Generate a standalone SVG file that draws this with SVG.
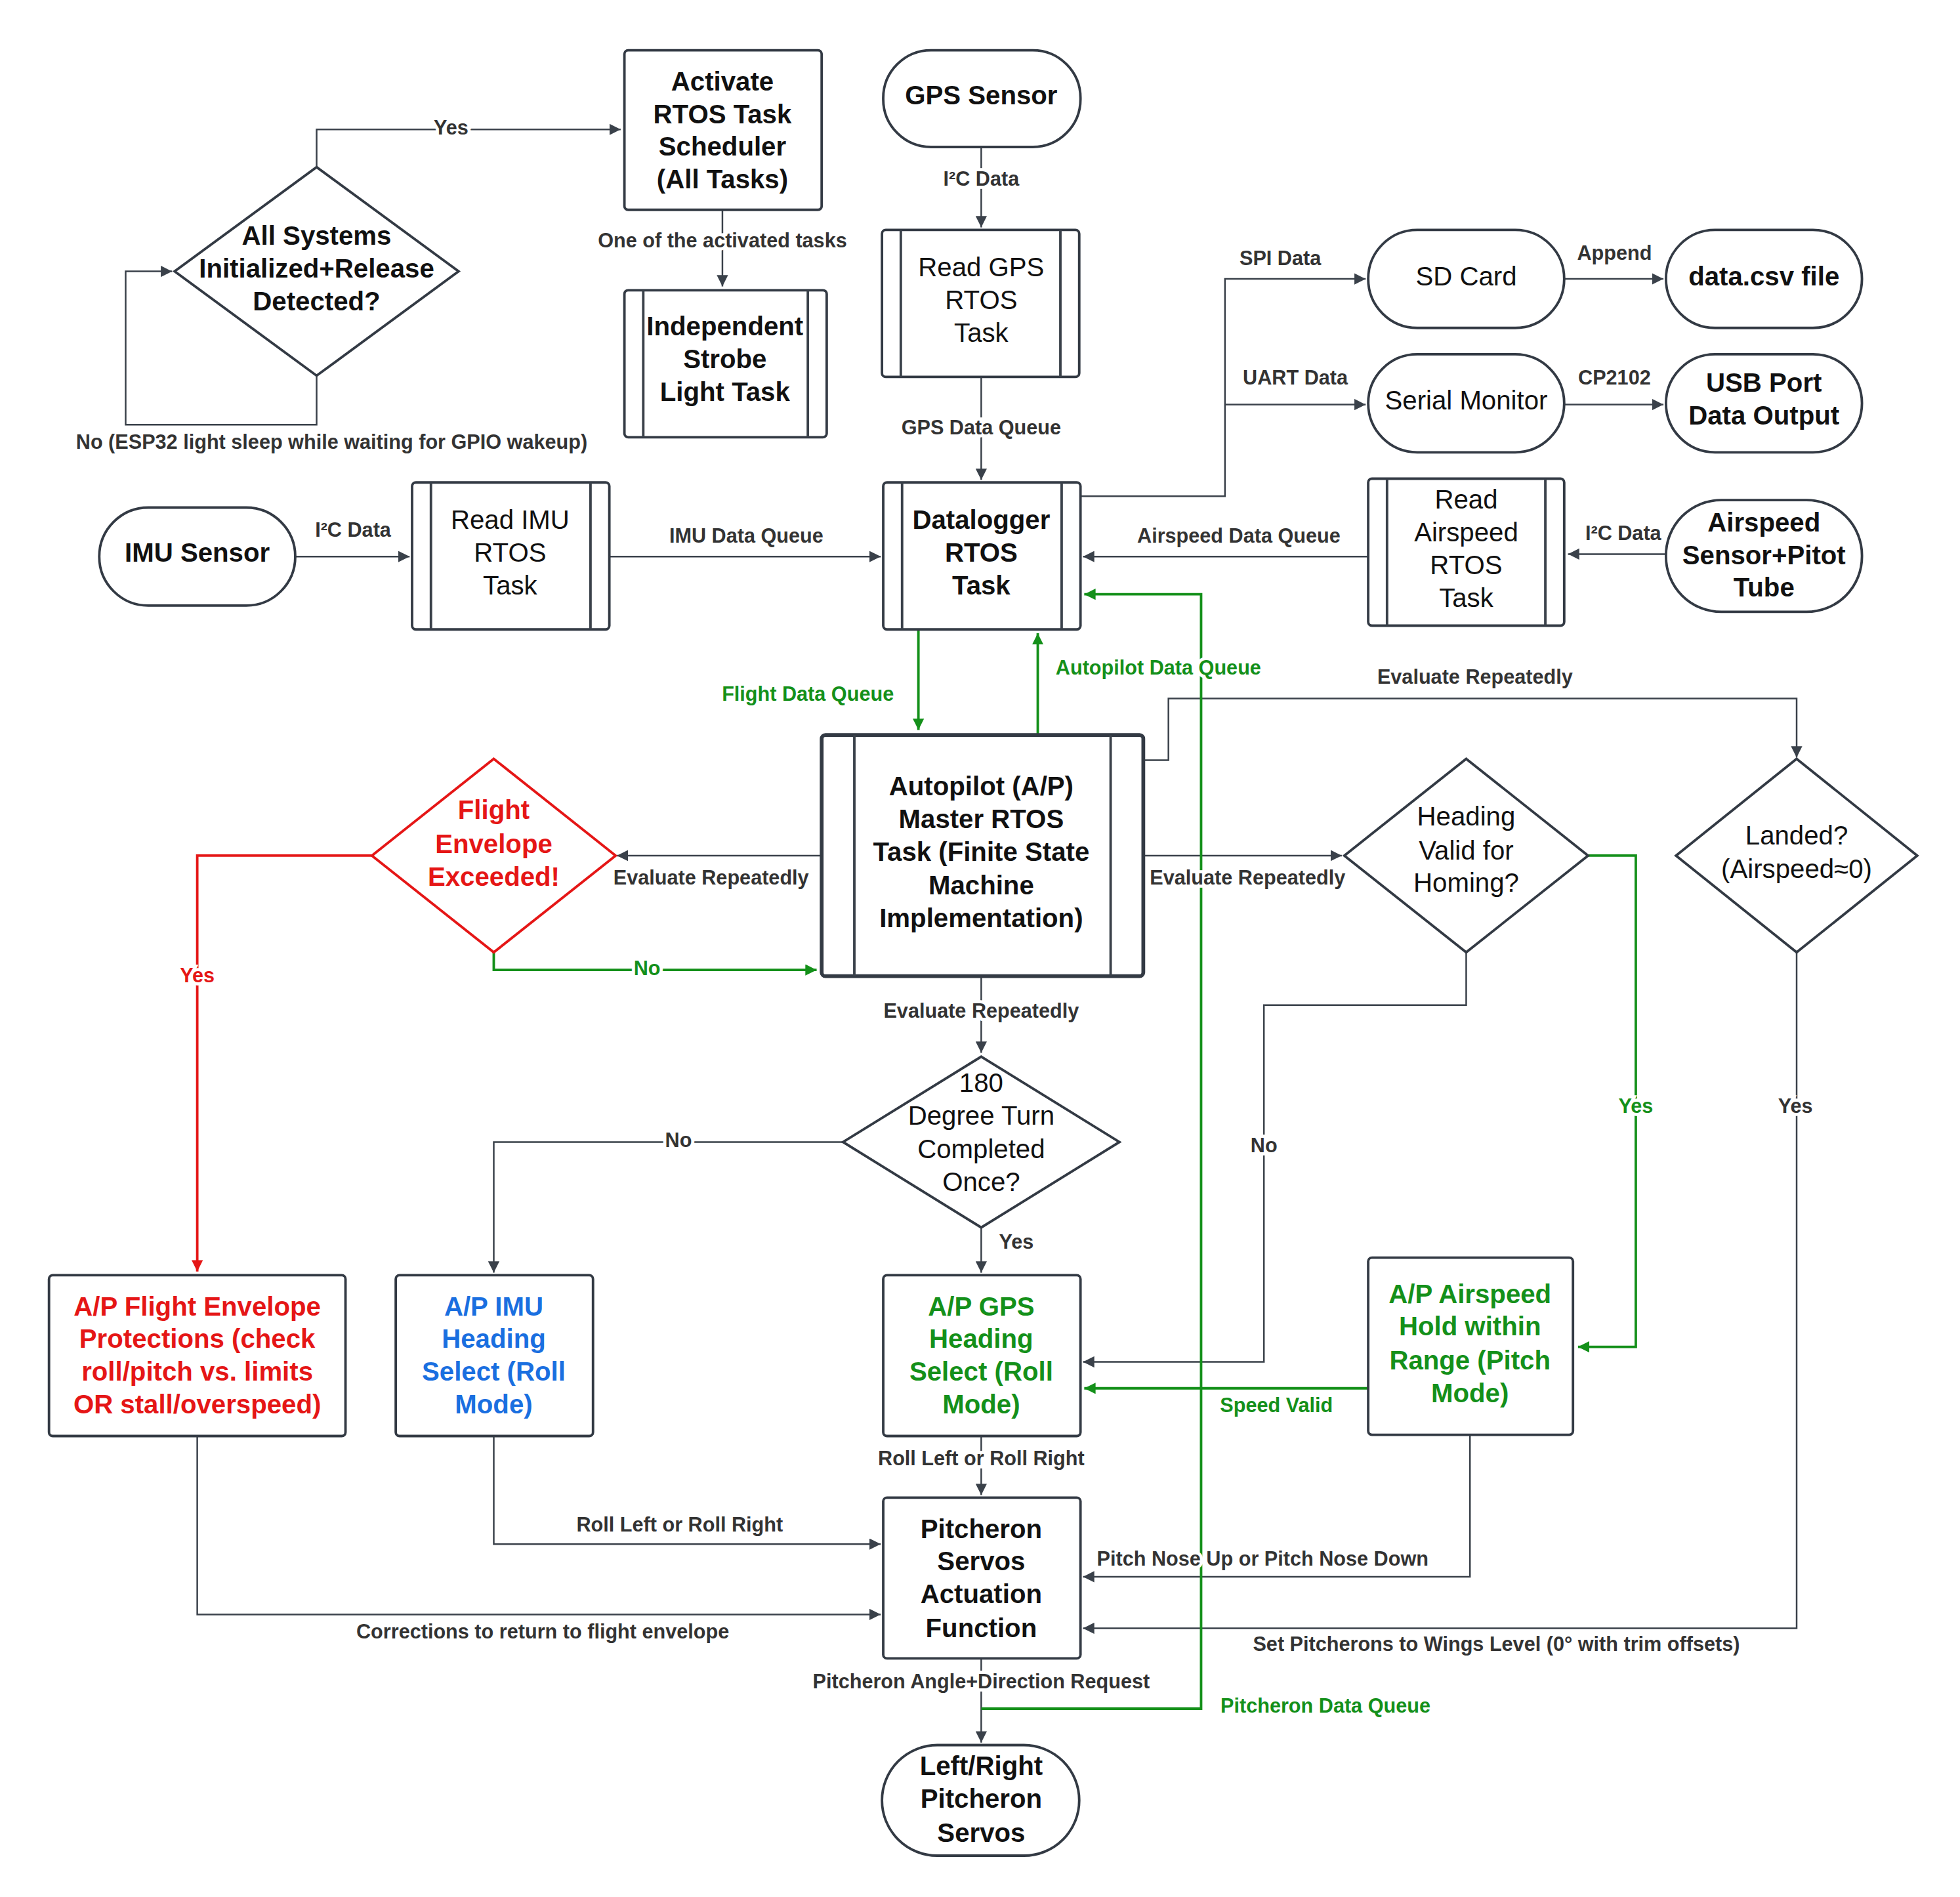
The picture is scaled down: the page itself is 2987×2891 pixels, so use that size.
<svg xmlns="http://www.w3.org/2000/svg" width="2987" height="2891" viewBox="0 0 2987 2891">
<style>
.n{fill:#fff;stroke:#333a44;stroke-width:2}
.t{font-family:"Liberation Sans",Arial,sans-serif;font-size:21px;text-anchor:middle;fill:#111}
.b{font-weight:bold}
.l{font-family:"Liberation Sans",Arial,sans-serif;font-size:16px;font-weight:bold;text-anchor:middle;fill:#333;stroke:#fff;stroke-width:5;paint-order:stroke}
.c{fill:none;stroke:#3a414a;stroke-width:1.3}
.g{fill:none;stroke:#14901a;stroke-width:2}
.r{fill:none;stroke:#e51616;stroke-width:2}
</style>
<defs>
<marker id="a" viewBox="0 0 10 10" refX="10" refY="5" markerWidth="9" markerHeight="9" markerUnits="userSpaceOnUse" orient="auto"><path d="M0,0L10,5L0,10z" fill="#3a414a"/></marker>
<marker id="ag" viewBox="0 0 10 10" refX="10" refY="5" markerWidth="9" markerHeight="9" markerUnits="userSpaceOnUse" orient="auto"><path d="M0,0L10,5L0,10z" fill="#14901a"/></marker>
<marker id="ar" viewBox="0 0 10 10" refX="10" refY="5" markerWidth="9" markerHeight="9" markerUnits="userSpaceOnUse" orient="auto"><path d="M0,0L10,5L0,10z" fill="#e51616"/></marker>
</defs>
<rect width="2987" height="2891" fill="#fff"/>
<g transform="scale(1.9147)">
<g id="connectors">
<path class="c" d="M252,133V103H494" marker-end="url(#a)"/>
<path class="c" d="M252,299V338H100V216H137" marker-end="url(#a)"/>
<path class="c" d="M575,167V228" marker-end="url(#a)"/>
<path class="c" d="M781,117V181" marker-end="url(#a)"/>
<path class="c" d="M781,300V382" marker-end="url(#a)"/>
<path class="c" d="M235,443H326" marker-end="url(#a)"/>
<path class="c" d="M485,443H701" marker-end="url(#a)"/>
<path class="c" d="M860,395H975V222H1087" marker-end="url(#a)"/>
<path class="c" d="M975,322H1087" marker-end="url(#a)"/>
<path class="c" d="M1245,222H1324" marker-end="url(#a)"/>
<path class="c" d="M1245,322H1324" marker-end="url(#a)"/>
<path class="c" d="M1326,441H1248" marker-end="url(#a)"/>
<path class="c" d="M1089,443H862" marker-end="url(#a)"/>
<path class="g" d="M731,501V581" marker-end="url(#ag)"/>
<path class="g" d="M826,585V504" marker-end="url(#ag)"/>
<path class="c" d="M910,605H930V556H1430V603" marker-end="url(#a)"/>
<path class="c" d="M654,681H491" marker-end="url(#a)"/>
<path class="c" d="M910,681H1068" marker-end="url(#a)"/>
<path class="g" d="M393,758V772H650" marker-end="url(#ag)"/>
<path class="r" d="M296,681H157V1012" marker-end="url(#ar)"/>
<path class="c" d="M781,777V838" marker-end="url(#a)"/>
<path class="c" d="M671,909H393V1013" marker-end="url(#a)"/>
<path class="c" d="M781,977V1013" marker-end="url(#a)"/>
<path class="c" d="M1167,758V800H1006V1084H862" marker-end="url(#a)"/>
<path class="g" d="M1264,681H1302V1072H1256" marker-end="url(#ag)"/>
<path class="g" d="M1089,1105H863" marker-end="url(#ag)"/>
<path class="c" d="M1430,758V1296H862" marker-end="url(#a)"/>
<path class="c" d="M1170,1142V1255H862" marker-end="url(#a)"/>
<path class="c" d="M781,1143V1190" marker-end="url(#a)"/>
<path class="c" d="M393,1143V1229H701" marker-end="url(#a)"/>
<path class="c" d="M157,1143V1285H701" marker-end="url(#a)"/>
<path class="c" d="M781,1320V1387" marker-end="url(#a)"/>
<path class="g" d="M781,1360H956V473H863" marker-end="url(#ag)"/>
<text class="l" x="359" y="107">Yes</text>
<text class="l" x="264" y="357">No (ESP32 light sleep while waiting for GPIO wakeup)</text>
<text class="l" x="575" y="197">One of the activated tasks</text>
<text class="l" x="781" y="148">I²C Data</text>
<text class="l" x="781" y="346">GPS Data Queue</text>
<text class="l" x="281" y="427">I²C Data</text>
<text class="l" x="594" y="432">IMU Data Queue</text>
<text class="l" x="1019" y="211">SPI Data</text>
<text class="l" x="1031" y="306">UART Data</text>
<text class="l" x="1285" y="207">Append</text>
<text class="l" x="1285" y="306">CP2102</text>
<text class="l" x="1292" y="430">I²C Data</text>
<text class="l" x="986" y="432">Airspeed Data Queue</text>
<text class="l" x="643" y="558" style="fill:#14901a">Flight Data Queue</text>
<text class="l" x="922" y="537" style="fill:#14901a">Autopilot Data Queue</text>
<text class="l" x="1174" y="544">Evaluate Repeatedly</text>
<text class="l" x="566" y="704">Evaluate Repeatedly</text>
<text class="l" x="993" y="704">Evaluate Repeatedly</text>
<text class="l" x="515" y="776" style="fill:#14901a">No</text>
<text class="l" x="157" y="782" style="fill:#e51616">Yes</text>
<text class="l" x="781" y="810">Evaluate Repeatedly</text>
<text class="l" x="540" y="913">No</text>
<text class="l" x="809" y="994">Yes</text>
<text class="l" x="1006" y="917">No</text>
<text class="l" x="1302" y="886" style="fill:#14901a">Yes</text>
<text class="l" x="1429" y="886">Yes</text>
<text class="l" x="1016" y="1124" style="fill:#14901a">Speed Valid</text>
<text class="l" x="1005" y="1246">Pitch Nose Up or Pitch Nose Down</text>
<text class="l" x="1191" y="1314">Set Pitcherons to Wings Level (0° with trim offsets)</text>
<text class="l" x="781" y="1166">Roll Left or Roll Right</text>
<text class="l" x="541" y="1219">Roll Left or Roll Right</text>
<text class="l" x="432" y="1304">Corrections to return to flight envelope</text>
<text class="l" x="781" y="1344">Pitcheron Angle+Direction Request</text>
<text class="l" x="1055" y="1363" style="fill:#14901a">Pitcheron Data Queue</text>
</g>
<g id="allsys"><path class="n" d="M252,133L365,216L252,299L139,216Z"/><text class="t b" x="252" y="195">All Systems</text><text class="t b" x="252" y="221">Initialized+Release</text><text class="t b" x="252" y="247">Detected?</text></g>
<g id="activate"><rect class="n" x="497" y="40" width="157" height="127" rx="3"/><text class="t b" x="575" y="72">Activate</text><text class="t b" x="575" y="98">RTOS Task</text><text class="t b" x="575" y="124">Scheduler</text><text class="t b" x="575" y="150">(All Tasks)</text></g>
<g id="strobe"><rect class="n" x="497" y="231" width="161" height="117" rx="3"/><path class="c" d="M512,231V348M643,231V348" style="stroke-width:2"/><text class="t b" x="577" y="267">Independent</text><text class="t b" x="577" y="293">Strobe</text><text class="t b" x="577" y="319">Light Task</text></g>
<g id="gps"><rect class="n" x="703" y="40" width="157" height="77" rx="38"/><text class="t b" x="781" y="83">GPS Sensor</text></g>
<g id="readgps"><rect class="n" x="702" y="183" width="157" height="117" rx="3"/><path class="c" d="M717,183V300M844,183V300" style="stroke-width:2"/><text class="t" x="781" y="220">Read GPS</text><text class="t" x="781" y="246">RTOS</text><text class="t" x="781" y="272">Task</text></g>
<g id="datalogger"><rect class="n" x="703" y="384" width="157" height="117" rx="3"/><path class="c" d="M718,384V501M845,384V501" style="stroke-width:2"/><text class="t b" x="781" y="421">Datalogger</text><text class="t b" x="781" y="447">RTOS</text><text class="t b" x="781" y="473">Task</text></g>
<g id="imu"><rect class="n" x="79" y="404" width="156" height="78" rx="39"/><text class="t b" x="157" y="447">IMU Sensor</text></g>
<g id="readimu"><rect class="n" x="328" y="384" width="157" height="117" rx="3"/><path class="c" d="M343,384V501M470,384V501" style="stroke-width:2"/><text class="t" x="406" y="421">Read IMU</text><text class="t" x="406" y="447">RTOS</text><text class="t" x="406" y="473">Task</text></g>
<g id="sd"><rect class="n" x="1089" y="183" width="156" height="78" rx="39"/><text class="t" x="1167" y="227">SD Card</text></g>
<g id="csv"><rect class="n" x="1326" y="183" width="156" height="78" rx="39"/><text class="t b" x="1404" y="227">data.csv file</text></g>
<g id="serial"><rect class="n" x="1089" y="282" width="156" height="78" rx="39"/><text class="t" x="1167" y="326">Serial Monitor</text></g>
<g id="usb"><rect class="n" x="1326" y="282" width="156" height="78" rx="39"/><text class="t b" x="1404" y="312">USB Port</text><text class="t b" x="1404" y="338">Data Output</text></g>
<g id="readair"><rect class="n" x="1089" y="381" width="156" height="117" rx="3"/><path class="c" d="M1104,381V498M1230,381V498" style="stroke-width:2"/><text class="t" x="1167" y="405">Read</text><text class="t" x="1167" y="431">Airspeed</text><text class="t" x="1167" y="457">RTOS</text><text class="t" x="1167" y="483">Task</text></g>
<g id="airsensor"><rect class="n" x="1326" y="398" width="156" height="89" rx="44"/><text class="t b" x="1404" y="423">Airspeed</text><text class="t b" x="1404" y="449">Sensor+Pitot</text><text class="t b" x="1404" y="475">Tube</text></g>
<g id="autopilot"><rect class="n" x="654" y="585" width="256" height="192" rx="3" style="stroke-width:3"/><path class="c" d="M680,585V777M884,585V777" style="stroke-width:2"/><text class="t b" x="781" y="633">Autopilot (A/P)</text><text class="t b" x="781" y="659">Master RTOS</text><text class="t b" x="781" y="685">Task (Finite State</text><text class="t b" x="781" y="712">Machine</text><text class="t b" x="781" y="738">Implementation)</text></g>
<g id="fenv"><path class="n" d="M393,604L490,681L393,758L296,681Z" style="stroke:#e51616"/><text class="t b" x="393" y="652" style="fill:#e51616">Flight</text><text class="t b" x="393" y="679" style="fill:#e51616">Envelope</text><text class="t b" x="393" y="705" style="fill:#e51616">Exceeded!</text></g>
<g id="headvalid"><path class="n" d="M1167,604L1264,681L1167,758L1070,681Z"/><text class="t" x="1167" y="657">Heading</text><text class="t" x="1167" y="684">Valid for</text><text class="t" x="1167" y="710">Homing?</text></g>
<g id="landed"><path class="n" d="M1430,604L1526,681L1430,758L1334,681Z"/><text class="t" x="1430" y="672">Landed?</text><text class="t" x="1430" y="699">(Airspeed≈0)</text></g>
<g id="turn"><path class="n" d="M781,841L891,909L781,977L671,909Z"/><text class="t" x="781" y="869">180</text><text class="t" x="781" y="895">Degree Turn</text><text class="t" x="781" y="922">Completed</text><text class="t" x="781" y="948">Once?</text></g>
<g id="apfe"><rect class="n" x="39" y="1015" width="236" height="128" rx="3"/><text class="t b" x="157" y="1047" style="fill:#e51616">A/P Flight Envelope</text><text class="t b" x="157" y="1073" style="fill:#e51616">Protections (check</text><text class="t b" x="157" y="1099" style="fill:#e51616">roll/pitch vs. limits</text><text class="t b" x="157" y="1125" style="fill:#e51616">OR stall/overspeed)</text></g>
<g id="apimu"><rect class="n" x="315" y="1015" width="157" height="128" rx="3"/><text class="t b" x="393" y="1047" style="fill:#1a6fe0">A/P IMU</text><text class="t b" x="393" y="1073" style="fill:#1a6fe0">Heading</text><text class="t b" x="393" y="1099" style="fill:#1a6fe0">Select (Roll</text><text class="t b" x="393" y="1125" style="fill:#1a6fe0">Mode)</text></g>
<g id="apgps"><rect class="n" x="703" y="1015" width="157" height="128" rx="3"/><text class="t b" x="781" y="1047" style="fill:#14901a">A/P GPS</text><text class="t b" x="781" y="1073" style="fill:#14901a">Heading</text><text class="t b" x="781" y="1099" style="fill:#14901a">Select (Roll</text><text class="t b" x="781" y="1125" style="fill:#14901a">Mode)</text></g>
<g id="apair"><rect class="n" x="1089" y="1001" width="163" height="141" rx="3"/><text class="t b" x="1170" y="1037" style="fill:#14901a">A/P Airspeed</text><text class="t b" x="1170" y="1063" style="fill:#14901a">Hold within</text><text class="t b" x="1170" y="1090" style="fill:#14901a">Range (Pitch</text><text class="t b" x="1170" y="1116" style="fill:#14901a">Mode)</text></g>
<g id="pitchfn"><rect class="n" x="703" y="1192" width="157" height="128" rx="3"/><text class="t b" x="781" y="1224">Pitcheron</text><text class="t b" x="781" y="1250">Servos</text><text class="t b" x="781" y="1276">Actuation</text><text class="t b" x="781" y="1303">Function</text></g>
<g id="servos"><rect class="n" x="702" y="1389" width="157" height="88" rx="44"/><text class="t b" x="781" y="1413">Left/Right</text><text class="t b" x="781" y="1439">Pitcheron</text><text class="t b" x="781" y="1466">Servos</text></g>
</g>
</svg>
